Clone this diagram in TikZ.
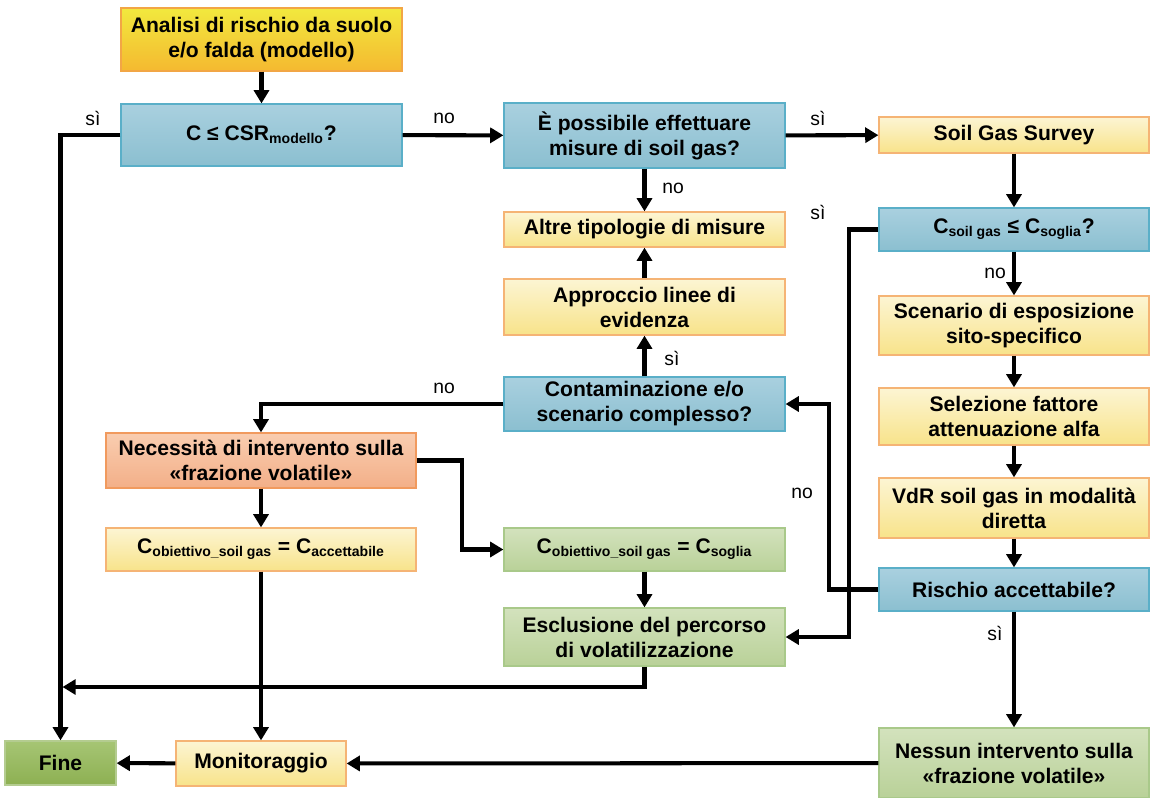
\documentclass[tikz,border=0pt]{standalone}
\usepackage{fontspec}
\setmainfont{Liberation Sans}
\usetikzlibrary{arrows.meta}
\definecolor{asktop}{HTML}{A9D0DF}
\definecolor{askbot}{HTML}{8BBFD0}
\definecolor{askline}{HTML}{5AAFC8}
\definecolor{steptop}{HTML}{FCF5D3}
\definecolor{stepbot}{HTML}{F8E38A}
\definecolor{stepline}{HTML}{F5B475}
\definecolor{starttop}{HTML}{F2E93E}
\definecolor{startbot}{HTML}{F4B930}
\definecolor{startline}{HTML}{F2A645}
\definecolor{acttop}{HTML}{F9CDB0}
\definecolor{actbot}{HTML}{F3AF88}
\definecolor{actline}{HTML}{F19A5E}
\definecolor{oktop}{HTML}{D3E2BD}
\definecolor{okbot}{HTML}{B9D198}
\definecolor{okline}{HTML}{A9C98A}
\definecolor{endtop}{HTML}{A6C574}
\definecolor{endbot}{HTML}{8DB052}
\definecolor{endline}{HTML}{B4CC90}

\begin{document}
\begin{tikzpicture}[x=0.02cm,y=-0.02cm,box/.style={line width=.7pt,align=center,inner sep=0pt,font=\fontsize{12}{14.2}\selectfont\bfseries},ask/.style={box,draw=askline,top color=asktop,bottom color=askbot},stepbox/.style={box,draw=stepline,top color=steptop,bottom color=stepbot},start/.style={box,draw=startline,top color=starttop,bottom color=startbot},act/.style={box,draw=actline,top color=acttop,bottom color=actbot},ok/.style={box,draw=okline,top color=oktop,bottom color=okbot},stop/.style={box,draw=endline,top color=endtop,bottom color=endbot},mid/.style={minimum width=5.62cm},side/.style={minimum width=5.4cm},wide/.style={minimum width=6.2cm},flow/.style={-{Triangle[length=7.5pt,width=8.5pt]},line width=2.3pt},lbl/.style={font=\fontsize{11}{13}\selectfont}]
 \useasboundingbox (0,0) rectangle (1150,798);
 \node[start,mid,minimum height=1.26cm] (analisi) at (261.5,39.5) {Analisi di rischio da suolo\\e/o falda (modello)};
 \node[ask,mid,minimum height=1.24cm] (csr) at (261.5,135) {C ≤ CSR\textsubscript{modello}?};
 \node[ask,mid,minimum height=1.3cm] (poss) at (644.5,135.5) {È possibile effettuare\\misure di soil gas?};
 \node[stepbox,mid,minimum height=.7cm] (altre) at (644.5,229.5) {Altre tipologie di misure};
 \node[stepbox,mid,minimum height=1.12cm] (appr) at (644.5,307) {Approccio linee di\\evidenza};
 \node[ask,mid,minimum height=1.08cm] (cont) at (644.5,404) {Contaminazione e/o\\scenario complesso?};
 \node[act,wide,minimum height=1.1cm] (nec) at (261,460.5) {Necessità di intervento sulla\\«frazione volatile»};
 \node[stepbox,wide,minimum height=.86cm] (coba) at (261,549.5) {C\textsubscript{obiettivo\_soil gas} = C\textsubscript{accettabile}};
 \node[ok,mid,minimum height=.86cm] (cobs) at (644.5,549.5) {C\textsubscript{obiettivo\_soil gas} = C\textsubscript{soglia}};
 \node[ok,mid,minimum height=1.16cm] (escl) at (644.5,637) {Esclusione del percorso\\di volatilizzazione};
 \node[stepbox,side,minimum height=.72cm] (sgs) at (1014,135) {Soil Gas Survey};
 \node[ask,side,minimum height=.86cm] (csg) at (1014,229.5) {C\textsubscript{soil gas} ≤ C\textsubscript{soglia}?};
 \node[stepbox,side,minimum height=1.18cm] (scen) at (1014,325.5) {Scenario di esposizione\\sito-specifico};
 \node[stepbox,side,minimum height=1.14cm] (sel) at (1014,416.5) {Selezione fattore\\attenuazione alfa};
 \node[stepbox,side,minimum height=1.2cm] (vdr) at (1014,508) {VdR soil gas in modalità\\diretta};
 \node[ask,side,minimum height=.86cm] (risk) at (1014,589.5) {Rischio accettabile?};
 \node[ok,side,minimum height=1.4cm] (ness) at (1014,763) {Nessun intervento sulla\\«frazione volatile»};
 \node[stop,minimum width=2.22cm,minimum height=.88cm] (fine) at (60.5,763) {Fine};
 \node[stepbox,minimum width=3.4cm,minimum height=.9cm] (mon) at (261,763.5) {Monitoraggio};
 \coordinate (merge) at (62.5,687);
 \foreach \a/\b in {analisi/csr,poss/altre,appr/altre,cont/appr,nec/coba,coba/mon,cobs/escl,sgs/csg,csg/scen,scen/sel,sel/vdr,vdr/risk,risk/ness}{\draw[flow] (\a) -- (\b);}
 \draw[flow] (csr.west) -| (fine);
 \draw[flow] (csr) -- (poss);
 \draw[flow] (poss) -- (sgs);
 \draw[flow] (cont.west) -| (nec);
 \draw[flow] (nec.east) -- ++(45,0) |- (cobs);
 \draw[flow] (escl.south) |- (merge);
 \draw[flow] (csg.west) -- ++(-29,0) |- (escl.east);
 \draw[flow] (risk.west) -- ++(-49,0) |- (cont.east);
 \draw[flow] (ness) -- (mon);
 \draw[flow] (mon) -- (fine);
 \foreach \t/\x/\y [count=\i] in {sì/93/118,no/444/118,sì/818/118,no/673/188,sì/818/212,no/995/273,sì/672/358,no/444/388,no/802/493,sì/995/633}{\node[lbl] (lab\i) at (\x,\y) {\t};}
\end{tikzpicture}
\end{document}
